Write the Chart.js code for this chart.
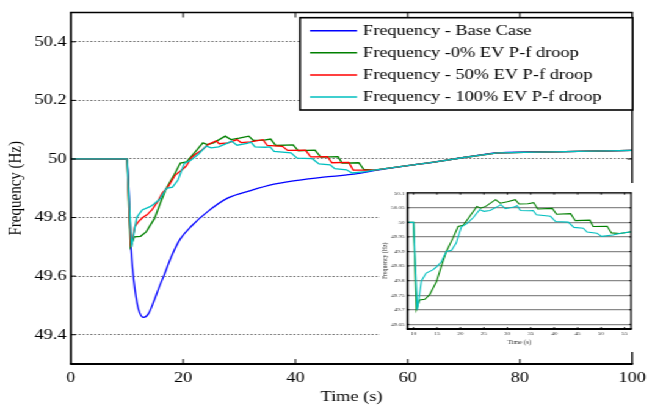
<!DOCTYPE html>
<html>
<head>
<meta charset="utf-8">
<script src="https://cdn.jsdelivr.net/npm/chart.js@4.4.1/dist/chart.umd.min.js"></script>
<style>
  html, body { margin:0; padding:0; background:#fff; overflow:hidden; }
  /* the original figure is stretched sideways, so draw narrow and widen */
  #wrap { position:absolute; left:0; top:0; width:534px; height:409px; transform:scaleX(1.22097); transform-origin:0 0; }
  #main { position:absolute; left:0; top:0; width:534px; height:409px; }
  #inset { position:absolute; left:311px; top:183px; width:211px; height:169px; background:#fff; }
</style>
</head>
<body>
<div id="wrap">
  <div id="main"><canvas id="mainChart"></canvas></div>
  <div id="inset"><canvas id="insetChart"></canvas></div>
</div>
<script>
const seriesLabels = [
  "Frequency - Base Case",
  "Frequency -0% EV P-f droop",
  "Frequency - 50% EV P-f droop",
  "Frequency - 100% EV P-f droop"
];

const timeBase = [0,10,10.68,10.97,11.44,12.03,12.91,13.79,14.79,15.67,16.55,18.02,19.49,21.54,24.47,28,32,36,40,45,50,54,60,65,70,76,88,100];
const freqBase = [50,50,49.705,49.627,49.549,49.487,49.459,49.471,49.515,49.56,49.601,49.672,49.727,49.772,49.822,49.867,49.892,49.913,49.926,49.938,49.947,49.96,49.977,49.99,50.005,50.021,50.025,50.029];

const time0 = [0,10,10.6,11.3,12.4,13.4,14.9,15.9,17,18.4,19.5,20.6,22,23.5,24.3,25.4,27.5,28.5,30,31.7,32.5,34.4,35.6,36.5,39.6,40.5,43.5,44.5,47.6,48.3,51.3,52.2,54,60,65,70,76,88,100];
const freq0 = [50,50,49.70,49.734,49.736,49.751,49.797,49.848,49.90,49.946,49.986,49.99,50.021,50.055,50.049,50.055,50.078,50.066,50.071,50.078,50.063,50.064,50.068,50.046,50.048,50.028,50.030,50.006,50.008,49.986,49.987,49.964,49.962,49.977,49.99,50.005,50.021,50.025,50.029];

const time50 = [0,10,10.7,11.4,12.0,12.8,13.6,14.5,15.5,16.3,17.3,18.6,19.6,20.5,21.5,22.3,23.3,24.5,25.9,26.4,28,29.6,30.3,32,34.2,35,37.7,38.6,41.8,42.7,45.7,46.5,49.5,50.3,54,60,65,70,76,88,100];
const freq50 = [50,50,49.70,49.77,49.785,49.80,49.81,49.828,49.856,49.884,49.905,49.945,49.96,49.975,50.005,50.018,50.03,50.05,50.062,50.052,50.055,50.066,50.056,50.058,50.066,50.046,50.043,50.029,50.03,50.007,50.008,49.987,49.988,49.962,49.962,49.977,49.99,50.005,50.021,50.025,50.029];

const time100 = [0,10,10.8,11.7,12.7,14.1,14.8,15.9,17,18.1,19.1,20.2,21.3,22.7,24.1,25,26.3,28,28.6,29.6,31.4,32.1,32.8,34.6,35.5,36.2,39.2,40.3,43,44.2,46.2,47,49.1,50.1,52.5,54,60,65,70,76,88,100];
const freq100 = [50,50,49.70,49.80,49.826,49.837,49.846,49.864,49.90,49.904,49.929,49.985,49.995,50.016,50.044,50.038,50.041,50.055,50.061,50.047,50.053,50.057,50.041,50.04,50.041,50.026,50.021,50.003,50.001,49.983,49.98,49.967,49.963,49.952,49.957,49.962,49.977,49.99,50.005,50.021,50.025,50.029];

const mainXTicks = [0,20,40,60,80,100];
const mainYTicks = [49.4,49.6,49.8,50,50.2,50.4];
const insetXTicks = [10,15,20,25,30,35,40,45,50,55];
const insetYTicks = [49.65,49.7,49.75,49.8,49.85,49.9,49.95,50,50.05,50.1];

const BLUE = "#0000ff", GREEN = "#008000", RED = "#ff0000", CYAN = "#00bfbf";

Chart.defaults.font.family = "'Liberation Serif', 'Times New Roman', serif";
Chart.defaults.color = "#000";

const pts = (ts, vs) => ts.map((t, i) => ({ x:t, y:vs[i] }));
const fixTicks = list => s => { s.ticks = list.map(v => ({ value:v })); };

// frame on all four sides with inward ticks, like a boxed matlab axes
const boxAxes = {
  id:"boxAxes",
  afterDatasetsDraw(chart, args, o) {
    const { ctx, chartArea:a, scales:{ x, y } } = chart;
    ctx.save();
    ctx.strokeStyle = "#000";
    ctx.lineWidth = o.tickWidth;
    ctx.beginPath();
    x.ticks.forEach(t => {
      const px = x.getPixelForValue(t.value);
      if (px <= a.left + 1 || px >= a.right - 1) return;
      ctx.moveTo(px, a.bottom); ctx.lineTo(px, a.bottom - o.tickX);
      ctx.moveTo(px, a.top); ctx.lineTo(px, a.top + o.tickX);
    });
    y.ticks.forEach(t => {
      const py = y.getPixelForValue(t.value);
      if (py <= a.top + 1 || py >= a.bottom - 1) return;
      ctx.moveTo(a.left, py); ctx.lineTo(a.left + o.tickY, py);
      ctx.moveTo(a.right, py); ctx.lineTo(a.right - o.tickY, py);
    });
    ctx.stroke();
    const side = (w, x1, y1, x2, y2) => {
      ctx.lineWidth = w;
      ctx.beginPath(); ctx.moveTo(x1, y1); ctx.lineTo(x2, y2); ctx.stroke();
    };
    side(o.top, a.left - o.left/2, a.top, a.right + o.right/2, a.top);
    side(o.bottom, a.left - o.left/2, a.bottom, a.right + o.right/2, a.bottom);
    side(o.left, a.left, a.top, a.left, a.bottom);
    side(o.right, a.right, a.top, a.right, a.bottom);
    ctx.restore();
  }
};

const boxLegend = {
  id:"boxLegend",
  afterDraw(chart, args, o) {
    if (!o.show) return;
    const ctx = chart.ctx;
    ctx.save();
    ctx.fillStyle = "#fff";
    ctx.fillRect(o.left, o.top, o.width, o.height);
    ctx.strokeStyle = "#000";
    ctx.lineWidth = 1.6;
    ctx.strokeRect(o.left, o.top, o.width, o.height);
    ctx.font = "15px 'Liberation Serif'";
    ctx.textBaseline = "middle";
    chart.data.datasets.forEach((ds, i) => {
      const yy = o.top + o.first + i * o.step;
      ctx.strokeStyle = ds.borderColor;
      ctx.lineWidth = 1.5;
      ctx.beginPath(); ctx.moveTo(o.left + o.lineStart, yy); ctx.lineTo(o.left + o.lineEnd, yy); ctx.stroke();
      ctx.fillStyle = "#000";
      ctx.fillText(ds.label, o.left + o.textStart, yy + 0.5);
    });
    ctx.restore();
  }
};

const lineDs = (label, data, color, order, extra) => Object.assign({
  label, data, borderColor:color, backgroundColor:color,
  borderWidth:1.3, pointRadius:0, tension:0, order
}, extra || {});

new Chart(document.getElementById("mainChart"), {
  type:"line",
  data:{
    datasets:[
      lineDs(seriesLabels[0], pts(timeBase, freqBase), BLUE, 4, { cubicInterpolationMode:"monotone" }),
      lineDs(seriesLabels[1], pts(time0, freq0), GREEN, 3),
      lineDs(seriesLabels[2], pts(time50, freq50), RED, 2),
      lineDs(seriesLabels[3], pts(time100, freq100), CYAN, 1)
    ]
  },
  options:{
    responsive:true,
    maintainAspectRatio:false,
    animation:false,
    layout:{ padding:{ left:0, right:10.7, top:6, bottom:0 } },
    plugins:{
      legend:{ display:false },
      tooltip:{ enabled:false },
      boxAxes:{ top:1.7, bottom:2, left:1.7, right:1.4, tickWidth:1, tickX:5, tickY:4 },
      boxLegend:{ show:true, left:245.7, top:17.7, width:272.5, height:92.3, first:13, step:22.1, lineStart:8.2, lineEnd:46.7, textStart:51.6 }
    },
    scales:{
      x:{
        type:"linear", min:0, max:100,
        afterBuildTicks:fixTicks(mainXTicks),
        afterFit:s => { s.height = 45; },
        grid:{ display:false, drawTicks:false },
        border:{ display:false },
        ticks:{ font:{ size:15 }, padding:5, maxRotation:0, callback:v => String(v) },
        title:{ display:true, text:"Time (s)", font:{ size:15 }, padding:{ top:0, bottom:3 } }
      },
      y:{
        type:"linear", min:49.3, max:50.5,
        afterBuildTicks:fixTicks(mainYTicks),
        afterFit:s => { s.width = 58.1; },
        grid:{ color:"#6e6e6e", lineWidth:1, drawTicks:false },
        border:{ display:false, dash:[1.6, 1.6] },
        ticks:{ font:{ size:15 }, padding:3.5, callback:v => String(v) },
        title:{ display:true, text:"Frequency (Hz)", font:{ size:15 }, padding:{ top:3.7, bottom:0 } }
      }
    }
  },
  plugins:[boxAxes, boxLegend]
});

new Chart(document.getElementById("insetChart"), {
  type:"line",
  data:{
    datasets:[
      lineDs(seriesLabels[1], pts(time0, freq0), GREEN, 2, { borderWidth:1.1 }),
      lineDs(seriesLabels[3], pts(time100, freq100), CYAN, 1, { borderWidth:1.1 })
    ]
  },
  options:{
    responsive:true,
    maintainAspectRatio:false,
    animation:false,
    layout:{ padding:{ left:0, right:5.1, top:9.7, bottom:0 } },
    plugins:{
      legend:{ display:false },
      tooltip:{ enabled:false },
      boxAxes:{ top:1, bottom:2, left:1.6, right:1.2, tickWidth:0.8, tickX:2, tickY:1.6 },
      boxLegend:{ show:false }
    },
    scales:{
      x:{
        type:"linear", min:8.7, max:56.4,
        afterBuildTicks:fixTicks(insetXTicks),
        afterFit:s => { s.height = 23; },
        grid:{ display:false, drawTicks:false },
        border:{ display:false },
        ticks:{ font:{ size:5 }, color:"#333", padding:2, maxRotation:0, callback:v => String(v) },
        title:{ display:true, text:"Time (s)", font:{ size:5.8 }, color:"#333", padding:{ top:0, bottom:5.8 } }
      },
      y:{
        type:"linear", min:49.634, max:50.102,
        afterBuildTicks:fixTicks(insetYTicks),
        afterFit:s => { s.width = 22.7; },
        grid:{ color:"#8a8a8a", lineWidth:1.3, drawTicks:false },
        border:{ display:false },
        ticks:{ font:{ size:5 }, color:"#333", padding:2.2, callback:v => String(v) },
        title:{ display:true, text:"Frequency (Hz)", font:{ size:5.8 }, color:"#333", padding:{ top:0.6, bottom:0 } }
      }
    }
  },
  plugins:[boxAxes, boxLegend]
});
</script>
</body>
</html>
